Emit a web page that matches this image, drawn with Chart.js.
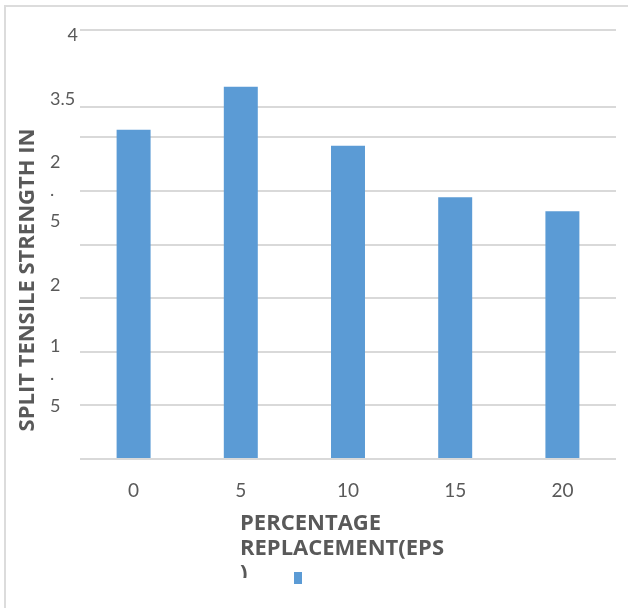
<!DOCTYPE html>
<html>
<head>
<meta charset="utf-8">
<script src="https://cdn.jsdelivr.net/npm/chart.js@4/dist/chart.umd.min.js"></script>
<style>
  html, body { margin: 0; padding: 0; background: #fff; }
  #wrap { position: relative; width: 628px; height: 608px; overflow: hidden; }
  #frame { position: absolute; left: 4px; top: 5px; right: -4px; bottom: -4px;
           border-left: 2px solid #dcdcdc; border-top: 2px solid #dcdcdc; pointer-events: none; }
</style>
</head>
<body>
<div id="wrap">
  <canvas id="chart" width="628" height="608"></canvas>
  <div id="frame"></div>
</div>
<script>
// EPS replacement level (%) on the x axis
const categories = ['0', '5', '10', '15', '20'];
// split tensile strength for each replacement level
const strengths = [3.07, 3.47, 2.92, 2.44, 2.31];
// value-axis labels as printed, top to bottom
const yTickLabels = ['4', '3.5', '2', '.', '5', '2', '1', '.', '5'];
// horizontal grid lines (value units)
const gridValues = [0, 0.5, 1, 1.5, 2, 2.5, 3, 4];
const upperGridValues = [3.28];
// axis titles
const yTitle = 'SPLIT TENSILE STRENGTH IN';
const xTitleLines = ['PERCENTAGE', 'REPLACEMENT(EPS', ')'];

const TEXT = '#595959';
const GRID = '#d9d9d9';
const BAR = '#5b9bd5';
const TITLE_FONT = 'bold 22px "Open Sans"';

// Draws axis titles, the value labels and the series key
const annotate = {
  id: 'annotate',
  afterDraw(chart, args, opts) {
    const ctx = chart.ctx;
    const y = chart.scales.y;
    const area = chart.chartArea;
    ctx.save();
    ctx.fillStyle = TEXT;

    // value labels
    ctx.font = '18px Lato';
    ctx.textBaseline = 'alphabetic';
    yTickLabels.forEach((t, i) => {
      const py = y.getPixelForValue(opts.labelBaselines[i]);
      if (i === 0) {
        ctx.textAlign = 'right';
        ctx.fillText(t, area.left - 2, py);
      } else {
        ctx.textAlign = 'left';
        ctx.fillText(t, area.left - 30, py);
      }
    });

    // vertical title
    ctx.save();
    ctx.font = TITLE_FONT;
    ctx.translate(28, 280);
    ctx.rotate(-Math.PI / 2);
    ctx.textAlign = 'center';
    ctx.textBaseline = 'middle';
    ctx.fillText(yTitle, 0, 0);
    ctx.restore();

    // horizontal title, cut off by its box
    ctx.save();
    ctx.beginPath();
    ctx.rect(0, 0, chart.width, 578);
    ctx.clip();
    ctx.font = TITLE_FONT;
    ctx.textAlign = 'left';
    ctx.textBaseline = 'alphabetic';
    xTitleLines.forEach((line, i) => {
      ctx.fillText(line, 240, 530 + i * 25);
    });
    ctx.restore();

    // series key
    ctx.fillStyle = chart.data.datasets[0].backgroundColor;
    ctx.fillRect(294, 572, 8, 12);
    ctx.restore();
  }
};

new Chart(document.getElementById('chart'), {
  type: 'bar',
  data: {
    labels: categories,
    datasets: [{
      data: strengths,
      backgroundColor: BAR,
      borderWidth: 0,
      barPercentage: 0.317,
      categoryPercentage: 1
    }]
  },
  options: {
    responsive: false,
    devicePixelRatio: 1,
    animation: false,
    events: [],
    layout: { padding: { top: 30, right: 12, bottom: 0, left: 0 } },
    plugins: {
      legend: { display: false },
      tooltip: { enabled: false },
      annotate: {
        labelBaselines: [3.90, 3.30, 2.71, 2.45, 2.16, 1.57, 1.00, 0.74, 0.44]
      }
    },
    scales: {
      x: {
        grid: { display: false },
        border: { display: false },
        ticks: {
          color: TEXT,
          font: { family: 'Lato', size: 19 },
          padding: 12,
          maxRotation: 0
        },
        afterFit(scale) { scale.height = 149; }
      },
      y: {
        position: 'left',
        min: 0,
        max: 4,
        border: { display: false },
        grid: { color: GRID, lineWidth: 2, drawTicks: false },
        ticks: { display: false },
        afterBuildTicks(scale) { scale.ticks = gridValues.map(v => ({ value: v })); },
        afterFit(scale) { scale.width = 80; }
      },
      yUpper: {
        position: 'left',
        min: 0,
        max: 4,
        z: 1,
        border: { display: false },
        grid: { color: GRID, lineWidth: 2, drawTicks: false },
        ticks: { display: false },
        afterBuildTicks(scale) { scale.ticks = upperGridValues.map(v => ({ value: v })); },
        afterFit(scale) { scale.width = 0; }
      }
    }
  },
  plugins: [annotate]
});
</script>
</body>
</html>
